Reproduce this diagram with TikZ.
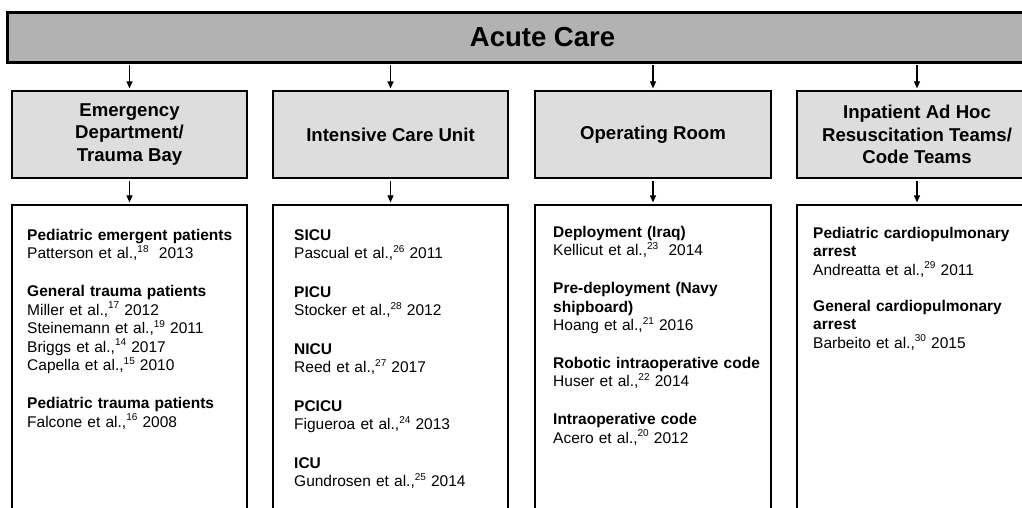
\documentclass[tikz,border=0pt]{standalone}
\usepackage{fontspec}
\setmainfont{Liberation Sans}
\usetikzlibrary{arrows.meta}
\definecolor{barfill}{RGB}{178,178,178}
\definecolor{headfill}{RGB}{221,221,221}
\newcommand\sups[1]{\raisebox{0.4em}{\fontsize{10}{10}\selectfont #1}}
\begin{document}
\begin{tikzpicture}[x=1pt,y=-1pt,
  barbox/.style={draw=black,line width=3pt,fill=barfill,inner sep=0pt,
    font=\fontsize{27.5}{30}\selectfont\bfseries},
  headbox/.style={draw=black,line width=2.6pt,fill=headfill,inner sep=0pt,
    minimum height=87pt,align=center,font=\fontsize{18.6}{22.5}\selectfont\bfseries},
  listbox/.style={draw=black,line width=2.6pt,fill=white,inner sep=0pt,minimum height=355pt},
  listtext/.style={anchor=base west,inner sep=0pt,text width=230pt,align=left,
    font=\fontsize{15.5}{18.5}\selectfont},
  conn/.style={line width=1.1pt,-{Triangle[length=7pt,width=6pt]},shorten >=1.3pt,shorten <=1.5pt}
]
\useasboundingbox (0,0) rectangle (1022,507);
\clip (0,0) rectangle (1022,507);
\fill[white] (0,0) rectangle (1022,507);

\node[barbox,minimum width=1071pt,minimum height=50pt] (acute) at (542.5,37) {Acute Care};

\node[headbox,minimum width=235pt] (h1) at (129.5,134.5) {Emergency\\Department/\\Trauma Bay};
\node[headbox,minimum width=235pt] (h2) at (390.5,134.5) {Intensive Care Unit};
\node[headbox,minimum width=236pt] (h3) at (653,134.5) {Operating Room};
\node[headbox,minimum width=240pt] (h4) at (917,134.5) {Inpatient Ad Hoc\\Resuscitation Teams/\\Code Teams};

\node[listbox,minimum width=235pt] (c1) at (129.5,382.5) {};
\node[listbox,minimum width=235pt] (c2) at (390.5,382.5) {};
\node[listbox,minimum width=236pt] (c3) at (653,382.5) {};
\node[listbox,minimum width=240pt] (c4) at (917,382.5) {};

\foreach \i in {1,2,3,4}{
  \draw[conn] (acute.south -| h\i.north) -- (h\i.north);
  \draw[conn] (h\i.south) -- (c\i.north);
}

\node[listtext] (t1) at (27,240) {\textbf{Pediatric emergent patients}\\
Patterson et al.,\sups{18}\ \ 2013\\[19.5pt]
\textbf{General trauma patients}\\
Miller et al.,\sups{17} 2012\\
Steinemann et al.,\sups{19} 2011\\
Briggs et al.,\sups{14} 2017\\
Capella et al.,\sups{15} 2010\\[19.5pt]
\textbf{Pediatric trauma patients}\\
Falcone et al.,\sups{16} 2008};

\node[listtext] (t2) at (294,240) {\textbf{SICU}\\
Pascual et al.,\sups{26} 2011\\[20pt]
\textbf{PICU}\\
Stocker et al.,\sups{28} 2012\\[20pt]
\textbf{NICU}\\
Reed et al.,\sups{27} 2017\\[20pt]
\textbf{PCICU}\\
Figueroa et al.,\sups{24} 2013\\[20pt]
\textbf{ICU}\\
Gundrosen et al.,\sups{25} 2014};

\node[listtext] (t3) at (553,237) {\textbf{Deployment (Iraq)}\\
Kellicut et al.,\sups{23}\ \ 2014\\[19.5pt]
\textbf{Pre-deployment (Navy}\\
\textbf{shipboard)}\\
Hoang et al.,\sups{21} 2016\\[19pt]
\textbf{Robotic intraoperative code}\\
Huser et al.,\sups{22} 2014\\[19.5pt]
\textbf{Intraoperative code}\\
Acero et al.,\sups{20} 2012};

\node[listtext] (t4) at (813,238) {\textbf{Pediatric cardiopulmonary}\\
\textbf{arrest}\\
Andreatta et al.,\sups{29} 2011\\[17.5pt]
\textbf{General cardiopulmonary}\\
\textbf{arrest}\\
Barbeito et al.,\sups{30} 2015};
\end{tikzpicture}
\end{document}
